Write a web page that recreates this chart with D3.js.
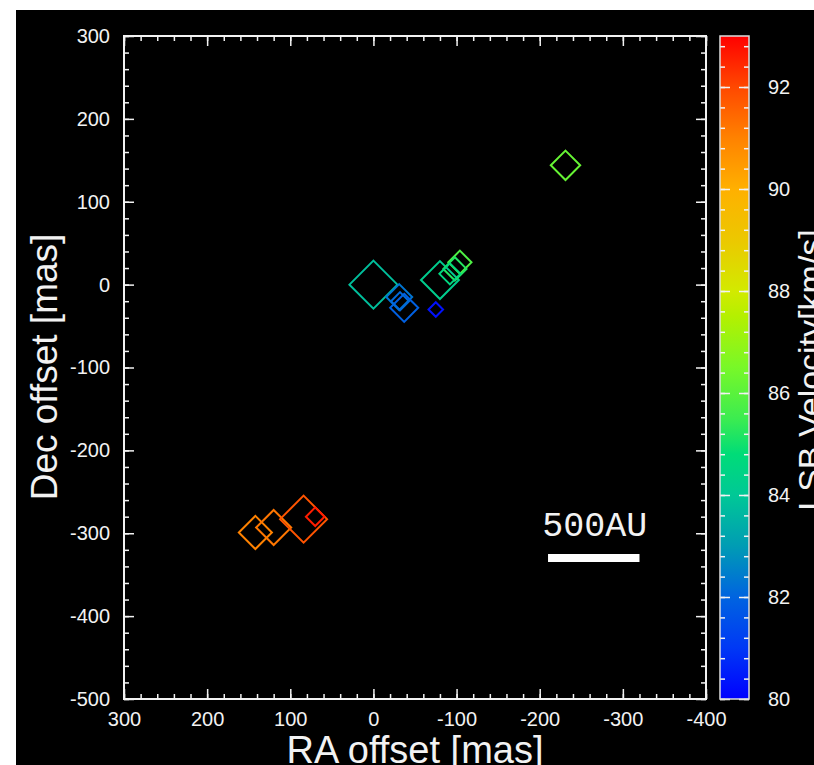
<!DOCTYPE html>
<html>
<head>
<meta charset="utf-8">
<script src="https://cdn.jsdelivr.net/npm/d3@7"></script>
<style>
  body { margin: 0; background: #fff; }
  svg { display: block; }
</style>
</head>
<body>
<div id="chart"></div>
<script>
// maser spots: offsets in mas, LSR velocity in km/s, peak flux (marker size)
const raOffset  = [-231, 0, -31, -37, -32, -75, -80, -104, -98, -92, 142, 120, 84, 70];
const decOffset = [144, 0, -15, -28, -20, -30, 5.5, 27, 19, 13, -299, -293, -283, -280];
const vlsr      = [86.2, 83.8, 82.3, 81.9, 82.1, 80.3, 84.2, 85.8, 85.2, 84.6, 91.0, 91.2, 91.8, 92.6];
const flux      = [4.5, 12, 3.5, 4.1, 1.7, 1.1, 7.5, 2.8, 2.8, 2.3, 5.7, 6.4, 11.5, 1.8];

const raTicks  = [300, 200, 100, 0, -100, -200, -300, -400];
const decTicks = [300, 200, 100, 0, -100, -200, -300, -400, -500];
const velTicks = [80, 82, 84, 86, 88, 90, 92];

// rainbow colour table
const cmapVel   = [80, 81, 82, 83, 84, 84.8, 85.5, 86.5, 87.5, 88, 89, 90, 91, 92, 93];
const cmapColor = ["#0000ff", "#0038f5", "#0064e0", "#009cb4", "#00c896", "#00dc78", "#3cec50",
                   "#78f828", "#b4f000", "#d2ea00", "#ecc800", "#ffb000", "#ff8200", "#ff4800", "#ff0000"];

// scale bar
const barLabel = "500AU";
const barRA = [-210, -320];
const barDec = -330;

const W = 814, H = 765;
const font = "'Liberation Sans', Arial, Helvetica, sans-serif";
const fg = "#f2f2f2";
const fmt = d => String(d); // plain hyphen minus like the original

const svg = d3.select("#chart").append("svg")
  .attr("width", W).attr("height", H);

svg.append("rect").attr("x", 16).attr("y", 10)
  .attr("width", W - 16).attr("height", H - 10).attr("fill", "#000");

const x = d3.scaleLinear().domain([300, -400]).range([124, 706]);
const y = d3.scaleLinear().domain([300, -500]).range([36, 699]);
const color = d3.scaleLinear().domain(cmapVel).range(cmapColor);
const r = d3.scaleSqrt().domain([0, 12]).range([0, 24]);

const minorRA = d3.range(300, -401, -20);
const minorDec = d3.range(300, -501, -20);

function styleAxis(g) {
  g.select(".domain").remove();
  g.selectAll("line").attr("stroke", fg).attr("stroke-width", 1.5);
  g.selectAll("text").attr("fill", fg).attr("font-family", font).attr("font-size", 20);
}

// bottom / top
svg.append("g").attr("transform", "translate(0,699)")
  .call(d3.axisBottom(x).tickValues(minorRA).tickSize(-5).tickFormat("")).call(styleAxis);
svg.append("g").attr("transform", "translate(0,699)")
  .call(d3.axisBottom(x).tickValues(raTicks).tickSize(-10).tickPadding(13).tickFormat(fmt))
  .call(styleAxis);
svg.append("g").attr("transform", "translate(0,36)")
  .call(d3.axisTop(x).tickValues(minorRA).tickSize(-5).tickFormat("")).call(styleAxis);
svg.append("g").attr("transform", "translate(0,36)")
  .call(d3.axisTop(x).tickValues(raTicks).tickSize(-10).tickFormat("")).call(styleAxis);

// left / right
svg.append("g").attr("transform", "translate(124,0)")
  .call(d3.axisLeft(y).tickValues(minorDec).tickSize(-5).tickFormat("")).call(styleAxis);
svg.append("g").attr("transform", "translate(124,0)")
  .call(d3.axisLeft(y).tickValues(decTicks).tickSize(-10).tickPadding(14).tickFormat(fmt))
  .call(styleAxis);
svg.append("g").attr("transform", "translate(706,0)")
  .call(d3.axisRight(y).tickValues(minorDec).tickSize(-5).tickFormat("")).call(styleAxis);
svg.append("g").attr("transform", "translate(706,0)")
  .call(d3.axisRight(y).tickValues(decTicks).tickSize(-10).tickFormat("")).call(styleAxis);

svg.append("rect").attr("x", 124).attr("y", 36).attr("width", 582).attr("height", 663)
  .attr("fill", "none").attr("stroke", fg).attr("stroke-width", 2);

// maser spots as diamonds
const spots = raOffset.map((d, i) => ({ ra: d, dec: decOffset[i], v: vlsr[i], f: flux[i] }));
svg.append("g").selectAll("path")
  .data(spots)
  .join("path")
  .attr("d", d => {
    const cx = x(d.ra), cy = y(d.dec), s = r(d.f);
    return `M${cx},${cy - s}L${cx + s},${cy}L${cx},${cy + s}L${cx - s},${cy}Z`;
  })
  .attr("fill", "none")
  .attr("stroke", d => color(d.v))
  .attr("stroke-width", 2);

// scale bar
svg.append("line")
  .attr("x1", x(barRA[0])).attr("x2", x(barRA[1]))
  .attr("y1", y(barDec)).attr("y2", y(barDec))
  .attr("stroke", "#fff").attr("stroke-width", 8);
svg.append("text")
  .attr("x", (x(barRA[0]) + x(barRA[1])) / 2 + 1).attr("y", y(barDec) - 22)
  .attr("text-anchor", "middle")
  .attr("font-family", "'Liberation Mono', 'DejaVu Sans Mono', monospace")
  .attr("font-size", 35).attr("fill", fg)
  .text(barLabel);

// colour bar
const cb = d3.scaleLinear().domain([80, 93]).range([699, 36]);
const grad = svg.append("defs").append("linearGradient")
  .attr("id", "cbar").attr("x1", 0).attr("y1", 1).attr("x2", 0).attr("y2", 0);
grad.selectAll("stop").data(cmapVel).join("stop")
  .attr("offset", d => (d - 80) / 13)
  .attr("stop-color", (d, i) => cmapColor[i]);
svg.append("rect").attr("x", 720).attr("y", 36).attr("width", 29).attr("height", 663)
  .attr("fill", "url(#cbar)");

const minorVel = d3.range(80, 93, 0.4);
svg.append("g").attr("transform", "translate(720,0)")
  .call(d3.axisLeft(cb).tickValues(minorVel).tickSize(-5).tickFormat("")).call(styleAxis);
svg.append("g").attr("transform", "translate(720,0)")
  .call(d3.axisLeft(cb).tickValues(velTicks).tickSize(-10).tickFormat("")).call(styleAxis);
svg.append("g").attr("transform", "translate(749,0)")
  .call(d3.axisRight(cb).tickValues(minorVel).tickSize(-5).tickFormat("")).call(styleAxis);
svg.append("g").attr("transform", "translate(749,0)")
  .call(d3.axisRight(cb).tickValues(velTicks).tickSize(-10).tickPadding(19).tickFormat(fmt))
  .call(styleAxis);
svg.append("rect").attr("x", 720).attr("y", 36).attr("width", 29).attr("height", 663)
  .attr("fill", "none").attr("stroke", "#ddd").attr("stroke-width", 1.5);

// titles
svg.append("text")
  .attr("transform", "translate(57,367) rotate(-90)")
  .attr("text-anchor", "middle").attr("font-family", font).attr("font-size", 37).attr("fill", fg)
  .text("Dec offset [mas]");
svg.append("text")
  .attr("x", 415).attr("y", 763)
  .attr("text-anchor", "middle").attr("font-family", font).attr("font-size", 38).attr("fill", fg)
  .text("RA offset [mas]");
svg.append("text")
  .attr("transform", "translate(822,370) rotate(-90)")
  .attr("text-anchor", "middle").attr("font-family", font).attr("font-size", 34).attr("fill", fg)
  .text("LSB Velocity[km/s]");
</script>
</body>
</html>
